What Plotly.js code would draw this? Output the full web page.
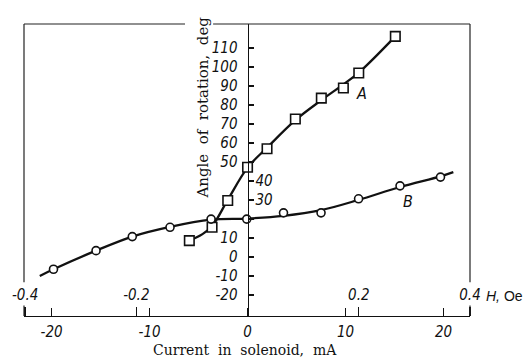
<!DOCTYPE html>
<html>
<head>
<meta charset="utf-8">
<script src="https://cdn.plot.ly/plotly-3.0.1.min.js"></script>
<style>html,body{margin:0;padding:0;background:#fff;}#chart{width:524px;height:361px;}</style>
</head>
<body>
<div id="chart"></div>
<script>
// ---- data ----
const seriesA_x = [-5.94, -3.62, -2.02, 0.0, 1.99, 4.88, 7.53, 9.78, 11.35, 15.08];
const seriesA_y = [8.6, 15.6, 29.7, 47.2, 56.9, 72.6, 83.6, 88.9, 96.8, 116.1];
const curveA_x = [-5.94, -4.6, -3.62, -2.02, 0.0, 1.99, 4.88, 7.53, 9.78, 11.35, 15.08];
const curveA_y = [8.6, 12.0, 16.2, 30.0, 47.0, 57.5, 72.0, 82.5, 90.8, 97.0, 116.1];

const seriesB_x = [-19.8, -15.46, -11.76, -7.91, -3.72, -0.08, 3.67, 7.5, 11.33, 15.56, 19.69];
const seriesB_y = [-6.5, 3.3, 10.7, 15.6, 19.9, 19.9, 23.2, 23.2, 30.6, 37.4, 42.0];
const curveB_x = [-21.2, -19.8, -15.46, -11.76, -7.91, -3.72, 0.0, 3.67, 7.5, 11.33, 15.56, 19.69, 21.0];
const curveB_y = [-10.0, -6.5, 3.3, 10.7, 15.8, 19.6, 20.2, 21.6, 24.6, 30.0, 36.8, 42.4, 44.6];

const xTickVals = [-20, -10, 0, 10, 20];
const xTickText = ['-20', '-10', '0', '10', '20'];
const yTickVals = [-20, -10, 0, 10, 20, 30, 40, 50, 60, 70, 80, 90, 100, 110];
const yTickText = ['-20', '-10', '0', '10', '', '', '', '50', '60', '70', '80', '90', '100', '110'];
const yRightTickVals = [30, 40];
const yRightTickText = ['30', '40'];
const hTickVals = [-0.4, -0.2, 0.2, 0.4];
const hTickText = ['-0.4', '-0.2', '0.2', '0.4'];

const curveLabels = ['A', 'B'];
const curveLabelX = [11.6, 16.4];
const curveLabelY = [86.2, 29.1];

const xTitle = 'Current\u00a0 in\u00a0 solenoid,\u00a0 mA';
const yTitle = 'Angle\u00a0 of\u00a0 rotation,\u00a0 deg';

// ---- layout constants ----
const xRange = [-22.81, 22.70];
const yRange = [-31.1, 122.6];
const hPerMA = 0.4 / 22.7;
const zeroPos = (0 - xRange[0]) / (xRange[1] - xRange[0]);
const it = s => (s === '' ? '' : '<i>' + s + '</i>');

const italicFont = {family: "'Liberation Sans Narrow', 'DejaVu Sans Condensed', 'Arial Narrow', sans-serif", size: 15, style: 'italic', color: '#111'};
const serifFont = {family: "'DejaVu Serif', 'Liberation Serif', serif", size: 15, color: '#111'};
const ink = '#111';

const traces = [
  {x: curveA_x, y: curveA_y, mode: 'lines', line: {color: ink, width: 2.3, shape: 'spline', smoothing: 1}, hoverinfo: 'skip', showlegend: false},
  {x: curveB_x, y: curveB_y, mode: 'lines', line: {color: ink, width: 2.3, shape: 'spline', smoothing: 1}, hoverinfo: 'skip', showlegend: false},
  {x: seriesA_x, y: seriesA_y, mode: 'markers', marker: {symbol: 'square', size: 9.5, color: '#fff', line: {color: ink, width: 1.6}}, showlegend: false},
  {x: seriesB_x, y: seriesB_y, mode: 'markers', marker: {symbol: 'circle', size: 8, color: '#fff', line: {color: ink, width: 1.6}}, showlegend: false},
  {x: [], y: [], xaxis: 'x2', yaxis: 'y2', mode: 'markers', hoverinfo: 'skip', showlegend: false}
];

const frameLine = {color: '#222', width: 1.2};
const shapes = [
  {type: 'line', xref: 'paper', yref: 'paper', x0: 0, x1: 0.361, y0: 1, y1: 1, line: frameLine},
  {type: 'line', xref: 'paper', yref: 'paper', x0: 0.424, x1: 1, y0: 1, y1: 1, line: frameLine},
  {type: 'line', xref: 'paper', yref: 'paper', x0: 0, x1: 0, y0: 0.116, y1: 1, line: frameLine},
  {type: 'line', xref: 'paper', yref: 'paper', x0: 0, x1: 0, y0: 0, y1: 0.036, line: frameLine},
  {type: 'line', xref: 'paper', yref: 'paper', x0: 1, x1: 1, y0: 0.116, y1: 1, line: frameLine},
  {type: 'line', xref: 'paper', yref: 'paper', x0: 1, x1: 1, y0: 0, y1: 0.036, line: frameLine}
];

const annotations = curveLabels.map((t, i) => ({
  x: curveLabelX[i], y: curveLabelY[i], xref: 'x', yref: 'y', text: it(t), showarrow: false,
  font: {family: italicFont.family, size: 16, color: ink}
}));
annotations.push(
  {xref: 'paper', yref: 'paper', x: 1.031, y: 0.0695, xanchor: 'left', yanchor: 'middle', showarrow: false,
   text: '<i>H,</i> Oe', font: {family: "'Liberation Sans', 'DejaVu Sans', sans-serif", size: 14, color: ink}},
  {xref: 'paper', yref: 'paper', x: 0.4025, y: 0.712, xanchor: 'center', yanchor: 'middle', showarrow: false,
   textangle: -90, text: yTitle, font: serifFont},
  {xref: 'paper', yref: 'paper', x: 0.495, y: -0.1475, xanchor: 'center', yanchor: 'bottom', showarrow: false,
   text: xTitle, font: {family: serifFont.family, size: 14, color: ink}, borderpad: 0}
);

const layout = {
  width: 524, height: 361,
  margin: {l: 24, r: 54, t: 24, b: 45, pad: 0},
  paper_bgcolor: '#fff', plot_bgcolor: '#fff',
  showlegend: false,
  xaxis: {
    range: xRange, showgrid: false, zeroline: false,
    showline: true, linecolor: ink, linewidth: 1.3,
    tickmode: 'array', tickvals: xTickVals, ticktext: xTickText.map(it),
    ticks: 'inside', ticklen: 8, tickwidth: 1.2, tickcolor: ink,
    tickfont: italicFont, ticklabelstandoff: 2
  },
  xaxis2: {
    overlaying: 'x', anchor: 'free', position: 0, side: 'top',
    range: [xRange[0] * hPerMA, xRange[1] * hPerMA], showgrid: false, zeroline: false, showline: false,
    tickmode: 'array', tickvals: hTickVals, ticktext: hTickText.map(it),
    ticks: 'outside', ticklen: 9, tickwidth: 1.2, tickcolor: ink,
    tickfont: italicFont, ticklabelstandoff: 1
  },
  yaxis: {
    range: yRange, showgrid: false, zeroline: false,
    anchor: 'free', position: zeroPos, side: 'left',
    showline: true, linecolor: ink, linewidth: 1.8,
    tickmode: 'array', tickvals: yTickVals, ticktext: yTickText.map(it),
    ticks: 'inside', ticklen: 5, tickwidth: 1.2, tickcolor: ink,
    tickfont: italicFont, ticklabelstandoff: 7
  },
  yaxis2: {
    overlaying: 'y', range: yRange, showgrid: false, zeroline: false,
    anchor: 'free', position: zeroPos, side: 'right', showline: false,
    tickmode: 'array', tickvals: yRightTickVals, ticktext: yRightTickText.map(it),
    ticks: '', tickfont: italicFont, ticklabelstandoff: 7
  },
  shapes: shapes,
  annotations: annotations
};

Plotly.newPlot('chart', traces, layout, {staticPlot: true, displayModeBar: false});
</script>
</body>
</html>
